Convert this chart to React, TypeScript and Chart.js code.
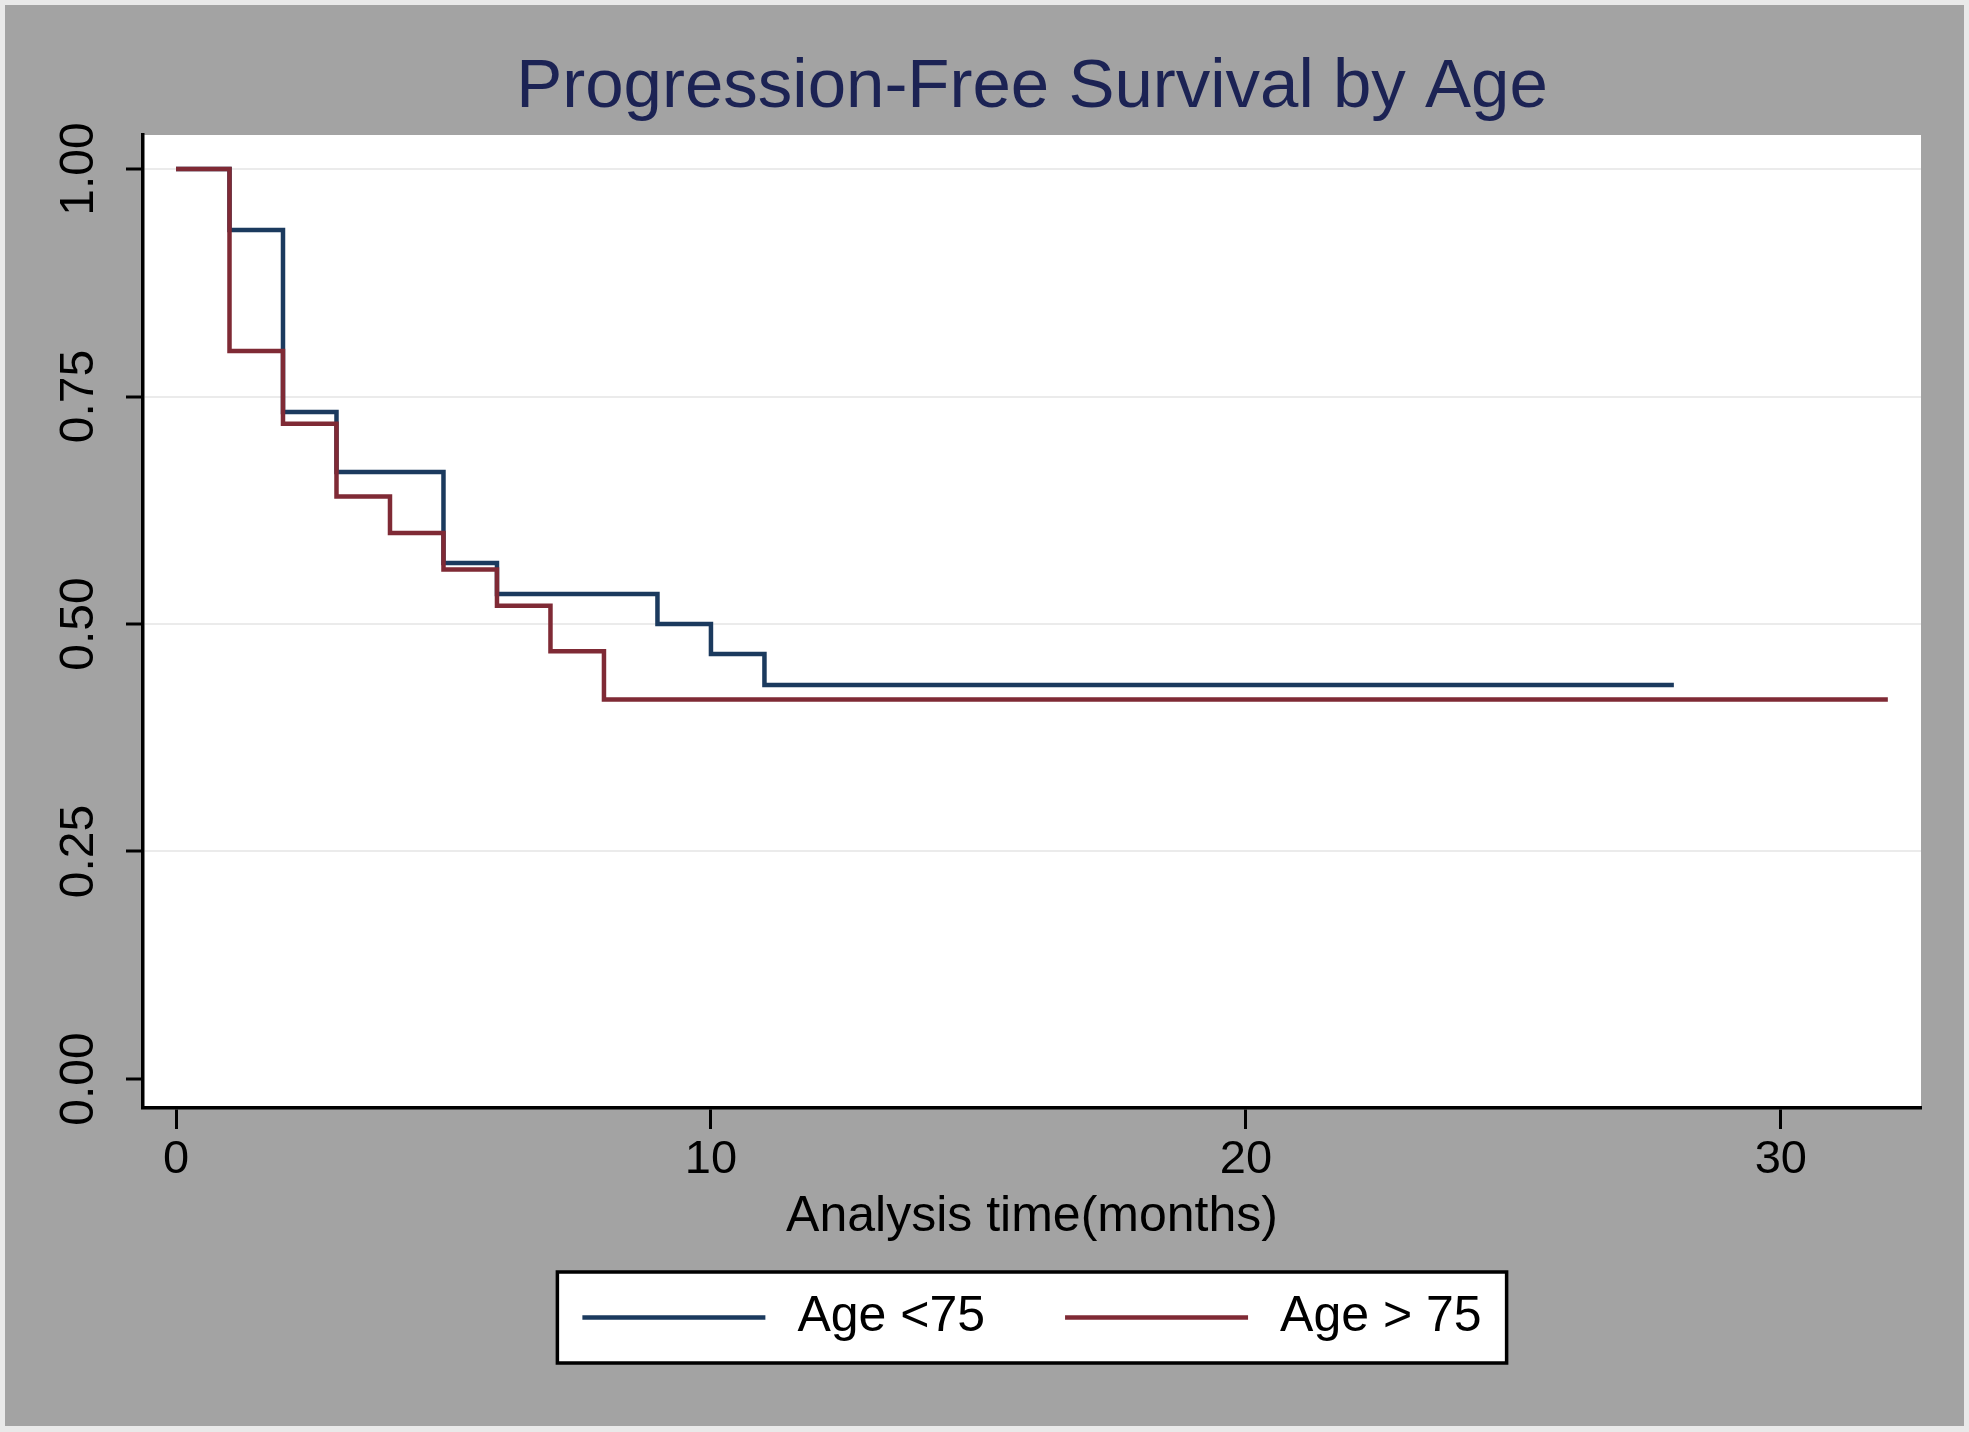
import { useEffect, useRef } from "react";
import { Chart, registerables, Plugin } from "chart.js";

Chart.register(...registerables);

const chartTitle = "Progression-Free Survival by Age";
const xAxisTitle = "Analysis time(months)";
const seriesLabels = ["Age <75", "Age > 75"];

// Kaplan-Meier steps (time in months, survival share)
const youngTimes = [0, 1, 2, 3, 5, 6, 9, 10, 11, 28];
const youngSurvival = [1, 0.933, 0.733, 0.667, 0.567, 0.533, 0.5, 0.467, 0.433, 0.433];
const oldTimes = [0, 1, 2, 3, 4, 5, 6, 7, 8, 32];
const oldSurvival = [1, 0.8, 0.72, 0.64, 0.6, 0.56, 0.52, 0.47, 0.417, 0.417];

const xTicks = [0, 10, 20, 30];
const yTicks = [0, 0.25, 0.5, 0.75, 1];

const NAVY = "#1b3a5e";
const MAROON = "#7f2a35";
const TITLE_COLOR = "#1c2354";
const FONT = "'Liberation Sans', Arial, sans-serif";

const plotBackground: Plugin = {
  id: "plotBackground",
  beforeDraw(chart) {
    const { ctx, chartArea: a } = chart;
    ctx.save();
    ctx.fillStyle = "#ffffff";
    ctx.fillRect(a.left, a.top, a.right - a.left, a.bottom - a.top);
    ctx.restore();
  },
};

const plotTitle: Plugin = {
  id: "plotTitle",
  afterDraw(chart) {
    const { ctx, chartArea: a } = chart;
    ctx.save();
    ctx.font = `69px ${FONT}`;
    ctx.fillStyle = TITLE_COLOR;
    ctx.textAlign = "center";
    ctx.textBaseline = "alphabetic";
    ctx.fillText(chartTitle, (a.left + a.right) / 2, a.top - 28);
    ctx.restore();
  },
};

// Stata-like legend: white box with a black frame, line samples + labels
const boxedLegend: Plugin = {
  id: "boxedLegend",
  afterDraw(chart) {
    const { ctx, chartArea: a } = chart;
    const items = chart.data.datasets.map((ds) => ({
      label: String(ds.label),
      color: String(ds.borderColor),
    }));
    const pad = 25;
    const sample = 183;
    const gap = 32;
    const itemGap = 80;
    ctx.save();
    ctx.font = `50px ${FONT}`;
    const widths = items.map((it) => ctx.measureText(it.label).width);
    const total =
      pad * 2 +
      widths.reduce((s, w) => s + sample + gap + w, 0) +
      itemGap * (items.length - 1);
    const top = a.bottom + 164;
    const height = 91;
    const left = (a.left + a.right) / 2 - total / 2;
    ctx.fillStyle = "#ffffff";
    ctx.fillRect(left, top, total, height);
    ctx.strokeStyle = "#000000";
    ctx.lineWidth = 3.5;
    ctx.strokeRect(left, top, total, height);
    const cy = top + height / 2;
    let x = left + pad;
    items.forEach((it, i) => {
      ctx.strokeStyle = it.color;
      ctx.lineWidth = 4.5;
      ctx.beginPath();
      ctx.moveTo(x, cy);
      ctx.lineTo(x + sample, cy);
      ctx.stroke();
      x += sample + gap;
      ctx.fillStyle = "#000000";
      ctx.textAlign = "left";
      ctx.textBaseline = "middle";
      ctx.fillText(it.label, x, cy);
      x += widths[i] + itemGap;
    });
    ctx.restore();
  },
};

export default function App() {
  const canvasRef = useRef<HTMLCanvasElement>(null);
  const chartInstance = useRef<Chart | null>(null);

  useEffect(() => {
    if (!canvasRef.current) return;
    if (chartInstance.current) chartInstance.current.destroy();

    Chart.defaults.font.family = FONT;
    Chart.defaults.color = "#000000";

    chartInstance.current = new Chart(canvasRef.current, {
      type: "line",
      data: {
        datasets: [
          {
            label: seriesLabels[0],
            data: youngTimes.map((t, i) => ({ x: t, y: youngSurvival[i] })),
            borderColor: NAVY,
            borderWidth: 4.5,
            stepped: "before",
            pointRadius: 0,
            fill: false,
            order: 1,
          },
          {
            label: seriesLabels[1],
            data: oldTimes.map((t, i) => ({ x: t, y: oldSurvival[i] })),
            borderColor: MAROON,
            borderWidth: 4.5,
            stepped: "before",
            pointRadius: 0,
            fill: false,
            order: 0,
          },
        ],
      },
      options: {
        responsive: false,
        animation: false,
        devicePixelRatio: 1,
        layout: { padding: { top: 130, left: 0, right: 43, bottom: 179 } },
        plugins: {
          legend: { display: false },
          title: { display: false },
          tooltip: { enabled: false },
        },
        scales: {
          x: {
            type: "linear",
            min: -0.617,
            max: 32.62,
            afterBuildTicks: (axis) => {
              axis.ticks = xTicks.map((v) => ({ value: v }));
            },
            afterFit: (axis) => {
              axis.height = 139;
            },
            border: { display: true, color: "#000000", width: 3.5 },
            grid: {
              drawOnChartArea: false,
              drawTicks: true,
              tickLength: 21,
              tickColor: "#000000",
              tickWidth: 3,
            },
            ticks: {
              font: { size: 47 },
              color: "#000000",
              padding: 3,
              autoSkip: false,
              maxRotation: 0,
            },
            title: {
              display: true,
              text: xAxisTitle,
              font: { size: 50 },
              color: "#000000",
              padding: 0,
            },
          },
          y: {
            type: "linear",
            min: -0.0319,
            max: 1.0374,
            afterBuildTicks: (axis) => {
              axis.ticks = yTicks.map((v) => ({ value: v }));
            },
            afterFit: (axis) => {
              axis.width = 138;
            },
            border: { display: true, color: "#000000", width: 3.5 },
            grid: {
              drawOnChartArea: true,
              color: (c: any) => (c.tick && c.tick.value === 0 ? "rgba(0,0,0,0)" : "#ebebeb"),
              lineWidth: 2,
              drawTicks: true,
              tickLength: 17,
              tickColor: "#000000",
              tickWidth: 3,
            },
            ticks: {
              font: { size: 48 },
              color: "#000000",
              padding: 0,
              minRotation: 90,
              maxRotation: 90,
              crossAlign: "center",
              callback: (v) => Number(v).toFixed(2),
            },
          },
        },
      },
      plugins: [plotBackground, plotTitle, boxedLegend],
    });

    return () => {
      if (chartInstance.current) {
        chartInstance.current.destroy();
        chartInstance.current = null;
      }
    };
  }, []);

  return (
    <div
      style={{
        position: "fixed",
        left: 0,
        top: 0,
        width: 1969,
        height: 1432,
        background: "#e9e9e9",
      }}
    >
      <div
        style={{
          position: "absolute",
          left: 5,
          top: 5,
          width: 1959,
          height: 1421,
          background: "#a3a3a3",
        }}
      >
        <canvas ref={canvasRef} width={1959} height={1421} />
      </div>
    </div>
  );
}
